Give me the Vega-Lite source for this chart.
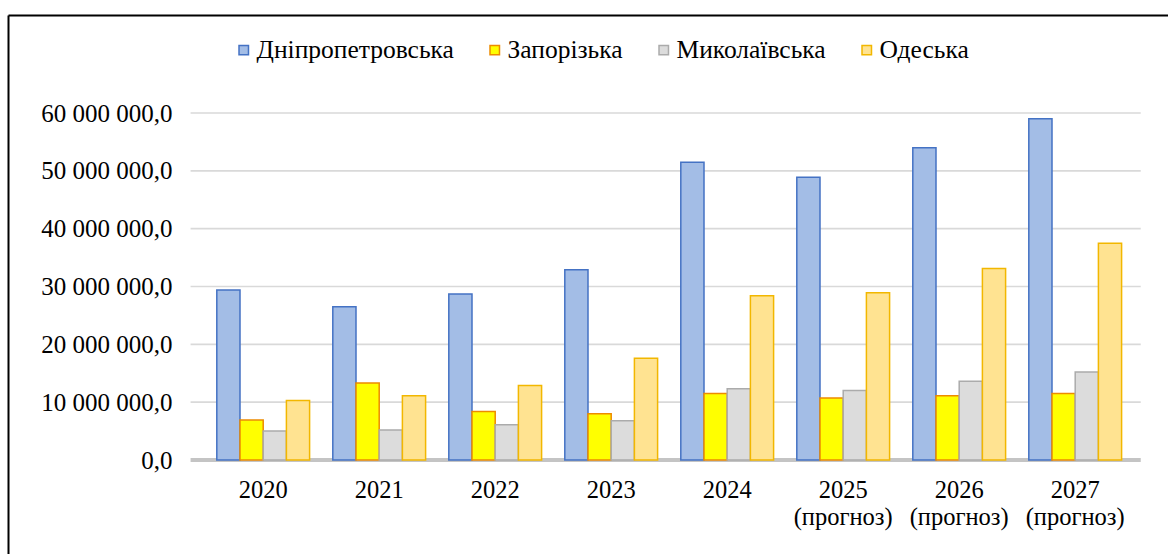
{
  "$schema": "https://vega.github.io/schema/vega-lite/v6.json",
  "width": 1160,
  "height": 539,
  "autosize": {"type": "none"},
  "padding": {"left": 8, "top": 15, "right": 0, "bottom": 0},
  "background": "white",
  "config": {
    "font": "Liberation Serif",
    "view": {"stroke": null},
    "axis": {"labelColor": "black", "labelFont": "Liberation Serif"}
  },
  "datasets": {
    "bars": [
      {"year": "2020", "region": "Дніпропетровська", "value": 29400000},
      {"year": "2020", "region": "Запорізька", "value": 6900000},
      {"year": "2020", "region": "Миколаївська", "value": 5000000},
      {"year": "2020", "region": "Одеська", "value": 10300000},
      {"year": "2021", "region": "Дніпропетровська", "value": 26500000},
      {"year": "2021", "region": "Запорізька", "value": 13300000},
      {"year": "2021", "region": "Миколаївська", "value": 5200000},
      {"year": "2021", "region": "Одеська", "value": 11100000},
      {"year": "2022", "region": "Дніпропетровська", "value": 28700000},
      {"year": "2022", "region": "Запорізька", "value": 8400000},
      {"year": "2022", "region": "Миколаївська", "value": 6100000},
      {"year": "2022", "region": "Одеська", "value": 12900000},
      {"year": "2023", "region": "Дніпропетровська", "value": 32900000},
      {"year": "2023", "region": "Запорізька", "value": 8000000},
      {"year": "2023", "region": "Миколаївська", "value": 6800000},
      {"year": "2023", "region": "Одеська", "value": 17600000},
      {"year": "2024", "region": "Дніпропетровська", "value": 51500000},
      {"year": "2024", "region": "Запорізька", "value": 11500000},
      {"year": "2024", "region": "Миколаївська", "value": 12300000},
      {"year": "2024", "region": "Одеська", "value": 28400000},
      {"year": "2025 (прогноз)", "region": "Дніпропетровська", "value": 48900000},
      {"year": "2025 (прогноз)", "region": "Запорізька", "value": 10700000},
      {"year": "2025 (прогноз)", "region": "Миколаївська", "value": 12000000},
      {"year": "2025 (прогноз)", "region": "Одеська", "value": 28900000},
      {"year": "2026 (прогноз)", "region": "Дніпропетровська", "value": 54000000},
      {"year": "2026 (прогноз)", "region": "Запорізька", "value": 11100000},
      {"year": "2026 (прогноз)", "region": "Миколаївська", "value": 13600000},
      {"year": "2026 (прогноз)", "region": "Одеська", "value": 33100000},
      {"year": "2027 (прогноз)", "region": "Дніпропетровська", "value": 59000000},
      {"year": "2027 (прогноз)", "region": "Запорізька", "value": 11500000},
      {"year": "2027 (прогноз)", "region": "Миколаївська", "value": 15200000},
      {"year": "2027 (прогноз)", "region": "Одеська", "value": 37500000}
    ],
    "grid": [
      {"v": 0}, {"v": 10000000}, {"v": 20000000}, {"v": 30000000},
      {"v": 40000000}, {"v": 50000000}, {"v": 60000000}
    ]
  },
  "layer": [
    {
      "data": {"name": "grid"},
      "mark": {"type": "rule"},
      "encoding": {
        "y": {
          "field": "v",
          "type": "quantitative",
          "axis": {"orient": "left", "offset": 0, "labels": false, "ticks": false, "grid": false, "title": null, "domain": true, "domainColor": "black", "domainWidth": 2}
        },
        "x": {
          "datum": "2020",
          "type": "nominal",
          "bandPosition": -0.126,
          "axis": {"orient": "top", "labels": false, "ticks": false, "grid": false, "title": null, "domain": true, "domainColor": "black", "domainWidth": 2}
        },
        "x2": {"datum": "2027 (прогноз)", "bandPosition": 1.065},
        "color": {"condition": {"test": "datum.v === 0", "value": "#c4c4c4"}, "value": "#d9d9d9"},
        "strokeWidth": {"condition": {"test": "datum.v === 0", "value": 4}, "value": 1.6}
      }
    },
    {
      "data": {"name": "bars"},
      "mark": {"type": "bar", "strokeWidth": 1.5},
      "encoding": {
        "x": {
          "field": "year",
          "type": "nominal",
          "sort": null,
          "scale": {
            "domain": ["2020", "2021", "2022", "2023", "2024", "2025 (прогноз)", "2026 (прогноз)", "2027 (прогноз)"],
            "paddingInner": 0,
            "paddingOuter": 1.0435,
            "align": 0.85
          },
          "axis": {
            "orient": "bottom", "offset": -94, "title": null, "domain": false, "ticks": false, "grid": false,
            "labelAngle": 0, "labelFontSize": 24.5, "labelPadding": 18, "labelBaseline": "top", "labelLineHeight": 27,
            "labelExpr": "split(datum.label, ' ')"
          }
        },
        "xOffset": {
          "field": "region",
          "type": "nominal",
          "scale": {"domain": ["Дніпропетровська", "Запорізька", "Миколаївська", "Одеська"], "paddingInner": 0, "paddingOuter": 0.5}
        },
        "y": {
          "field": "value",
          "type": "quantitative",
          "scale": {"domain": [-16253602, 76945245], "nice": false, "zero": false},
          "axis": {
            "orient": "left", "offset": -170, "values": [0, 10000000, 20000000, 30000000, 40000000, 50000000, 60000000],
            "title": null, "domain": false, "ticks": false, "grid": false,
            "labelFontSize": 25, "labelPadding": 6,
            "labelExpr": "replace(replace(replace(format(datum.value, ',.1f'), ',', ' '), ',', ' '), '.', ',')"
          }
        },
        "y2": {"datum": 0},
        "fill": {
          "field": "region",
          "type": "nominal",
          "scale": {"domain": ["Дніпропетровська", "Запорізька", "Миколаївська", "Одеська"], "range": ["#a3bde6", "#ffff00", "#dcdcdc", "#ffe391"]},
          "legend": {
            "orient": "none", "legendX": 223, "legendY": 22, "direction": "horizontal", "title": null,
            "labelFontSize": 25.5, "labelFont": "Liberation Serif", "labelColor": "black", "labelLimit": 400,
            "symbolType": "square", "symbolSize": 90, "symbolStrokeWidth": 1.5, "labelOffset": 0, "columnPadding": 28
          }
        },
        "stroke": {
          "field": "region",
          "type": "nominal",
          "scale": {"domain": ["Дніпропетровська", "Запорізька", "Миколаївська", "Одеська"], "range": ["#4472c4", "#ed8b00", "#ababab", "#f2b700"]},
          "legend": {
            "orient": "none", "legendX": 223, "legendY": 22, "direction": "horizontal", "title": null,
            "labelFontSize": 25.5, "labelFont": "Liberation Serif", "labelColor": "black", "labelLimit": 400,
            "symbolType": "square", "symbolSize": 90, "symbolStrokeWidth": 1.5, "labelOffset": 0, "columnPadding": 28
          }
        }
      }
    }
  ],
  "resolve": {"axis": {"x": "independent", "y": "independent"}}
}
